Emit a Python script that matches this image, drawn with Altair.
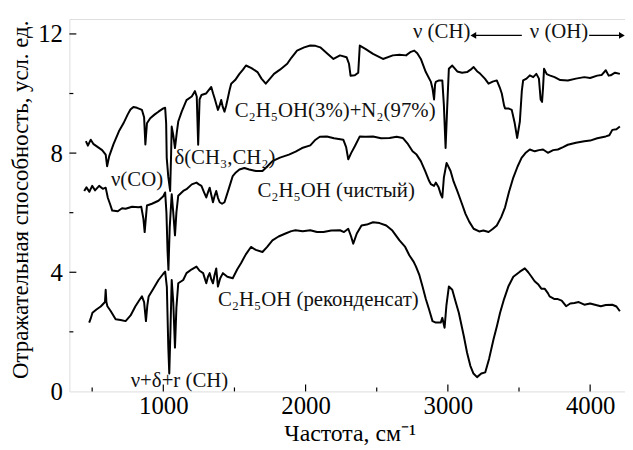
import altair as alt
import pandas as pd

# --- series (x: cm^-1, y: reflectance, arb. units) ---
top_x = [456, 470, 490, 510, 540, 570, 595, 605, 620, 650, 688, 720, 750, 769, 790, 815, 850, 865, 874, 885,
         908, 940, 966, 1000, 1013, 1020, 1024, 1035, 1048, 1055, 1059, 1070, 1082, 1095, 1105, 1130, 1163, 1200,
         1222, 1235, 1245, 1255, 1268, 1300, 1337, 1350, 1361, 1375, 1384, 1396, 1407, 1418, 1430, 1442, 1453,
         1465, 1477, 1505, 1535, 1560, 1581, 1620, 1662, 1690, 1720, 1750, 1778, 1820, 1871, 1900, 1940, 1990,
         2033, 2070, 2103, 2150, 2196, 2242, 2288, 2305, 2316, 2346, 2370, 2381, 2420, 2474, 2544, 2613, 2660,
         2706, 2740, 2764, 2785, 2810, 2845, 2880, 2892, 2903, 2910, 2915, 2938, 2961, 2972, 2984, 2995, 3007,
         3031, 3066, 3100, 3135, 3160, 3181, 3205, 3228, 3260, 3286, 3315, 3344, 3365, 3379, 3395, 3402, 3425,
         3449, 3470, 3487, 3506, 3520, 3529, 3553, 3576, 3600, 3622, 3640, 3652, 3662, 3669, 3676, 3695, 3715,
         3750, 3790, 3843, 3900, 3959, 4000, 4050, 4080, 4110, 4130, 4144, 4175, 4209]
top_y = [8.4, 8.25, 8.45, 8.3, 8.2, 8.1, 7.95, 7.56, 7.9, 8.3, 8.73, 9.0, 9.3, 9.46, 9.55, 9.52, 9.45, 9.2, 8.29, 9.0,
         9.17, 9.3, 9.39, 9.5, 9.52, 9.0, 7.84, 7.2, 6.73, 8.0, 8.89, 8.6, 8.17, 8.7, 9.06, 9.4, 9.78, 9.9,
         10.08, 9.9, 8.28, 9.8, 9.95, 10.0, 10.22, 10.0, 9.83, 9.6, 9.45, 9.6, 9.78, 9.55, 9.39, 9.6, 9.83,
         10.1, 10.33, 10.45, 10.66, 10.8, 10.94, 10.85, 10.72, 10.5, 10.33, 10.5, 10.66, 10.8, 11.0, 11.2, 11.44, 11.55,
         11.61, 11.6, 11.55, 11.35, 11.16, 11.28, 11.22, 11.0, 10.6, 10.61, 10.7, 11.61, 11.5, 11.33, 11.16, 11.28, 11.3,
         11.28, 11.4, 11.44, 11.35, 11.16, 10.72, 10.4, 10.17, 9.8, 10.3, 10.39, 10.44, 10.44, 9.61, 8.17, 9.5, 10.83,
         10.94, 10.74, 10.7, 10.72, 10.8, 10.89, 10.75, 10.66, 10.5, 10.33, 10.4, 10.44, 10.2, 10.0, 9.6, 9.5, 9.5,
         9.45, 9.0, 8.51, 9.06, 10.1, 10.44, 10.5, 10.61, 10.55, 10.66, 10.5, 9.8, 9.72, 10.2, 10.83, 10.65, 10.61,
         10.55, 10.45, 10.44, 10.5, 10.55, 10.52, 10.6, 10.62, 10.78, 10.6, 10.61, 10.7, 10.66]

mid_x = [444, 460, 480, 500, 520, 549, 575, 595, 610, 625, 641, 680, 710, 735, 780, 827, 845, 860, 869, 877, 885,
         920, 966, 1000, 1013, 1022, 1030, 1036, 1045, 1059, 1070, 1082, 1092, 1105, 1140, 1163, 1200, 1233, 1250,
         1268, 1285, 1302, 1315, 1326, 1337, 1349, 1360, 1372, 1384, 1396, 1413, 1430, 1460, 1488, 1510, 1535,
         1570, 1604, 1650, 1697, 1730, 1767, 1820, 1883, 1930, 1975, 2033, 2070, 2100, 2149, 2200, 2265, 2285,
         2300, 2320, 2346, 2381, 2420, 2474, 2530, 2590, 2640, 2683, 2720, 2752, 2780, 2810, 2840, 2868, 2880,
         2903, 2915, 2935, 2950, 2961, 2972, 2991, 3019, 3040, 3066, 3095, 3124, 3150, 3181, 3220, 3250, 3286,
         3315, 3344, 3375, 3402, 3430, 3460, 3490, 3518, 3545, 3576, 3611, 3640, 3669, 3703, 3740, 3773, 3810,
         3843, 3900, 3959, 4000, 4050, 4110, 4135, 4156, 4185, 4209]
mid_y = [6.73, 6.85, 6.7, 6.9, 6.75, 6.9, 6.8, 6.84, 6.5, 6.3, 6.07, 6.05, 6.15, 6.13, 6.2, 6.18, 6.2, 5.8, 5.35, 5.8, 6.24,
         6.3, 6.4, 6.55, 6.68, 6.0, 4.7, 4.08, 5.5, 6.62, 6.0, 5.24, 6.0, 6.57, 6.73, 6.79, 6.95, 7.01, 6.95,
         6.9, 6.7, 6.51, 6.7, 6.84, 6.6, 6.35, 6.55, 6.73, 6.5, 6.35, 6.3, 6.35, 6.8, 7.23, 7.35, 7.45,
         7.5, 7.45, 7.4, 7.4, 7.55, 7.73, 7.85, 7.95, 8.05, 8.17, 8.26, 8.45, 8.55, 8.56, 8.5, 8.45, 8.2,
         7.79, 8.0, 8.23, 8.56, 8.55, 8.56, 8.5, 8.51, 8.55, 8.51, 8.3, 8.06, 7.95, 7.73, 7.4, 7.07, 6.96,
         6.9, 7.01, 6.85, 6.62, 6.51, 7.18, 7.67, 7.4, 7.05, 6.73, 6.35, 5.96, 5.7, 5.46, 5.37, 5.4, 5.35,
         5.45, 5.57, 5.85, 6.18, 6.7, 7.18, 7.55, 7.84, 8.0, 8.12, 8.06, 8.1, 8.12, 8.01, 8.1, 8.12, 8.2,
         8.28, 8.35, 8.4, 8.42, 8.5, 8.56, 8.6, 8.78, 8.8, 8.89]

bot_x = [479, 490, 502, 530, 560, 572, 590, 595, 600, 607, 630, 665, 700, 735, 770, 804, 830, 850, 865, 878, 888,
         897, 930, 966, 1000, 1013, 1025, 1035, 1042, 1050, 1059, 1070, 1082, 1092, 1105, 1140, 1163, 1200, 1233,
         1255, 1280, 1302, 1314, 1326, 1338, 1349, 1360, 1372, 1384, 1400, 1419, 1450, 1488, 1520, 1546, 1580,
         1616, 1650, 1697, 1730, 1767, 1810, 1859, 1900, 1929, 1980, 2033, 2080, 2126, 2180, 2242, 2270, 2300,
         2320, 2335, 2360, 2393, 2430, 2474, 2520, 2567, 2610, 2660, 2700, 2729, 2760, 2776, 2800, 2822, 2845,
         2868, 2892, 2915, 2950, 2961, 2977, 2990, 3007, 3031, 3055, 3077, 3112, 3135, 3158, 3180, 3205, 3235,
         3263, 3290, 3321, 3345, 3367, 3395, 3425, 3460, 3506, 3541, 3565, 3588, 3610, 3634, 3657, 3680, 3703,
         3715, 3750, 3773, 3800, 3831, 3860, 3889, 3920, 3959, 4000, 4040, 4075, 4110, 4156, 4185, 4209]
bot_y = [2.31, 2.45, 2.64, 2.75, 2.85, 2.91, 3.0, 3.41, 3.0, 2.86, 2.7, 2.42, 2.4, 2.36, 2.55, 2.86, 3.05, 3.19, 3.0, 2.36, 2.9,
         3.19, 3.45, 3.74, 3.95, 4.02, 3.5, 1.5, 0.6, 2.0, 3.74, 3.0, 1.47, 2.8, 3.63, 3.74, 3.97, 4.1, 4.19,
         4.05, 3.97, 3.63, 3.85, 3.97, 3.75, 3.63, 3.9, 4.13, 3.52, 3.8, 3.97, 3.85, 3.8, 4.1, 4.3, 4.6,
         4.85, 4.75, 4.68, 4.85, 5.07, 5.2, 5.3, 5.38, 5.41, 5.38, 5.41, 5.35, 5.35, 5.4, 5.41, 5.35, 5.46,
         5.2, 4.96, 5.3, 5.57, 5.6, 5.68, 5.65, 5.57, 5.4, 5.07, 4.85, 4.57, 4.35, 4.19, 3.9, 3.52, 3.1,
         2.75, 2.36, 2.31, 2.31, 2.47, 2.14, 2.9, 3.52, 3.41, 3.0, 2.64, 1.86, 1.3, 0.86, 0.6, 0.48, 0.6,
         0.64, 1.1, 1.75, 2.2, 2.64, 3.1, 3.52, 3.85, 4.02, 4.13, 4.0, 3.85, 3.7, 3.6, 3.45, 3.45, 3.3,
         3.19, 3.1, 3.1, 3.05, 2.86, 2.95, 2.97, 3.0, 2.91, 2.95, 2.9, 2.86, 2.9, 2.91, 2.85, 2.69]

series_names = ["top", "mid", "bot"]

# annotations
ann_text = ["C₂H₅OH(3%)+N₂(97%)", "ν(CO)", "δ(CH₃,CH₂)", "C₂H₅OH (чистый)",
            "C₂H₅OH (реконденсат)", "ν+δ+r (CH)", "ν (CH)", "ν (OH)"]
ann_x = [1502, 632, 1078, 1662, 1384, 771, 2755, 3576]
ann_y = [9.22, 6.9, 7.63, 6.53, 2.88, 0.16, 11.85, 11.85]

arrow_x1 = [3520, 3993]
arrow_x2 = [3179, 4223]
arrow_y = [11.95, 11.95]
arrow_head = ["triangle-left", "triangle-right"]

x_major = [1000, 2000, 3000, 4000]
x_minor = [500, 1500, 2500, 3500]
y_major = [4, 8, 12]
y_minor = [2, 6, 10]

X_DOMAIN = [340, 4245]
Y_DOMAIN = [0, 12.5]
W, H = 561, 376
FONT = "Liberation Serif"

rows = []
for name, xs, ys in zip(series_names, [top_x, mid_x, bot_x], [top_y, mid_y, bot_y]):
    for i, (a, b) in enumerate(zip(xs, ys)):
        rows.append({"series": name, "x": a, "y": b, "i": i})
df = pd.DataFrame(rows)

xs = alt.Scale(domain=X_DOMAIN, nice=False, zero=False)
ys = alt.Scale(domain=Y_DOMAIN, nice=False)

lines = alt.Chart(df).mark_line(color="black", strokeWidth=2.0, strokeJoin="round").encode(
    x=alt.X("x:Q", scale=xs,
            axis=alt.Axis(values=x_major, format="d", title="Частота, см⁻¹", ticks=False, domain=False,
                          grid=False, labelFontSize=25, labelPadding=2, labelColor="black", labelFont=FONT,
                          titleFontSize=24, titleFontWeight="normal", titleFont=FONT, titleColor="black",
                          titleX=283, titleY=50, titleBaseline="alphabetic", titleAlign="center")),
    y=alt.Y("y:Q", scale=ys,
            axis=alt.Axis(values=[0] + y_major, format="d", title="Отражательная способность, усл. ед.",
                          ticks=False, domain=False, grid=False, labelFontSize=25, labelPadding=7,
                          labelColor="black", labelFont=FONT, titleFontSize=23, titleFontWeight="normal",
                          titleFont=FONT, titleColor="black", titleX=-49, titleY=182, titleAlign="center",
                          titleBaseline="middle", titleAngle=-90)),
    detail="series:N",
    order="i:Q",
)

ann_df = pd.DataFrame({"x": ann_x, "y": ann_y, "t": ann_text})
texts = alt.Chart(ann_df).mark_text(align="left", baseline="alphabetic", fontSize=21, font=FONT,
                                    color="#111").encode(
    x=alt.X("x:Q", scale=xs), y=alt.Y("y:Q", scale=ys), text="t:N")

arr_df = pd.DataFrame({"x1": arrow_x1, "x2": arrow_x2, "y": arrow_y, "shape": arrow_head})
arr_lines = alt.Chart(arr_df).mark_rule(color="black", strokeWidth=1.3).encode(
    x=alt.X("x1:Q", scale=xs), x2="x2:Q", y=alt.Y("y:Q", scale=ys))
arr_heads = alt.Chart(arr_df).mark_point(filled=True, color="black", size=45, opacity=1).encode(
    x=alt.X("x2:Q", scale=xs), y=alt.Y("y:Q", scale=ys),
    shape=alt.Shape("shape:N", scale=None))

xt_major = alt.Chart(pd.DataFrame({"v": x_major})).mark_rule(color="black", strokeWidth=1.2).encode(
    x=alt.X("v:Q", scale=xs), y=alt.value(H), y2=alt.value(H - 7))
xt_minor = alt.Chart(pd.DataFrame({"v": x_minor})).mark_rule(color="black", strokeWidth=1.2).encode(
    x=alt.X("v:Q", scale=xs), y=alt.value(H), y2=alt.value(H - 4))
yt_major = alt.Chart(pd.DataFrame({"v": y_major})).mark_rule(color="black", strokeWidth=1.2).encode(
    y=alt.Y("v:Q", scale=ys), x=alt.value(0), x2=alt.value(7))
yt_minor = alt.Chart(pd.DataFrame({"v": y_minor})).mark_rule(color="black", strokeWidth=1.2).encode(
    y=alt.Y("v:Q", scale=ys), x=alt.value(0), x2=alt.value(4))

chart = alt.layer(xt_major, xt_minor, yt_major, yt_minor, lines, texts, arr_lines, arr_heads).properties(
    width=W, height=H,
    autosize=alt.AutoSizeParams(type="none"),
    padding={"left": 62, "top": 9, "right": 0, "bottom": 57},
).configure_view(stroke="black", strokeWidth=1.3).configure(font=FONT)

chart.save("out.html", embed_options={"renderer": "svg", "actions": False})
